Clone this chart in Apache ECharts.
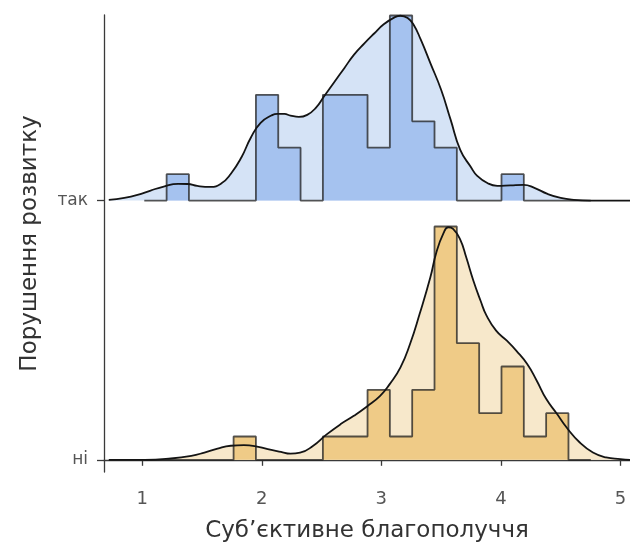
<!DOCTYPE html>
<html>
<head>
<meta charset="utf-8">
<script src="https://cdn.jsdelivr.net/npm/echarts@6/dist/echarts.min.js"></script>
<style>
html, body { margin: 0; padding: 0; background: #fff; }
#main { width: 630px; height: 552px; }
</style>
</head>
<body>
<div id="main"></div>
<script>
// ridges, bottom to top
var groups = ['ні', 'так'];
var xTicks = [1, 2, 3, 4, 5];

// histogram bins
var binStart = 1.017;
var binWidth = 0.18675;
var countsNi  = [0, 0, 0, 0, 1, 0, 0, 0, 1, 1, 3, 1, 3, 10, 5, 2, 4, 1, 2, 0];
var countsTak = [0, 1, 0, 0, 0, 4, 2, 0, 4, 4, 2, 7, 3, 2, 0, 0, 1, 0, 0, 0];

// density curves [x, density]
var densityNi = [
    [0.72, 0], [1.02, 0], [1.24, 0.009], [1.41, 0.027], [1.52, 0.049], [1.63, 0.076],
    [1.74, 0.095], [1.85, 0.099], [1.94, 0.093], [2.05, 0.072], [2.16, 0.054], [2.24, 0.042],
    [2.32, 0.048], [2.43, 0.095], [2.54, 0.170], [2.66, 0.241], [2.77, 0.297], [2.88, 0.360],
    [2.99, 0.432], [3.07, 0.511], [3.16, 0.624], [3.24, 0.782], [3.32, 0.984], [3.41, 1.232],
    [3.46, 1.400], [3.52, 1.530], [3.56, 1.570], [3.60, 1.559], [3.66, 1.486], [3.71, 1.367],
    [3.77, 1.209], [3.83, 1.074], [3.88, 0.973], [3.96, 0.872], [4.05, 0.804], [4.13, 0.736],
    [4.22, 0.647], [4.30, 0.534], [4.38, 0.410], [4.47, 0.309], [4.55, 0.218], [4.66, 0.117],
    [4.77, 0.049], [4.88, 0.016], [5.00, 0.005], [5.08, 0]
];
var densityTak = [
    [0.72, 0.005], [0.85, 0.018], [0.96, 0.038], [1.07, 0.068], [1.18, 0.095], [1.30, 0.113],
    [1.38, 0.112], [1.46, 0.099], [1.57, 0.092], [1.66, 0.115], [1.74, 0.180], [1.83, 0.293],
    [1.91, 0.428], [1.99, 0.525], [2.08, 0.574], [2.13, 0.586], [2.19, 0.585], [2.24, 0.574],
    [2.31, 0.565], [2.38, 0.579], [2.45, 0.624], [2.52, 0.703], [2.61, 0.804], [2.69, 0.894],
    [2.77, 0.984], [2.86, 1.063], [2.94, 1.128], [3.02, 1.190], [3.11, 1.237], [3.16, 1.248],
    [3.22, 1.232], [3.27, 1.187], [3.33, 1.086], [3.41, 0.928], [3.50, 0.748], [3.58, 0.545],
    [3.66, 0.343], [3.75, 0.225], [3.80, 0.169], [3.89, 0.117], [3.97, 0.100], [4.08, 0.103],
    [4.19, 0.106], [4.28, 0.086], [4.39, 0.045], [4.50, 0.018], [4.61, 0.005], [4.75, 0], [5.08, 0]
];

var ridgeScale = 0.9; // tallest ridge = 0.9 of the spacing between ridges
var maxDens = Math.max(
    Math.max.apply(null, countsNi) / (sum(countsNi) * binWidth),
    Math.max.apply(null, countsTak) / (sum(countsTak) * binWidth)
);
var k = ridgeScale / maxDens;

function sum(a) { return a.reduce(function (s, v) { return s + v; }, 0); }

function histPoints(counts, offset) {
    var n = sum(counts);
    var pts = counts.map(function (c, i) {
        return [binStart + i * binWidth, offset + c / (n * binWidth) * k];
    });
    pts.push([binStart + counts.length * binWidth, offset]);
    return pts;
}

function densPoints(dens, offset) {
    return dens.map(function (p) { return [p[0], offset + p[1] * k]; });
}

var ridges = [
    { offset: 1, counts: countsTak, dens: densityTak, light: '#d5e3f6', dark: '#a5c2ef' },
    { offset: 0, counts: countsNi, dens: densityNi, light: '#f7e8cb', dark: '#efcb87' }
];

var series = [];
ridges.forEach(function (r) {
    series.push({
        type: 'line',
        data: densPoints(r.dens, r.offset),
        smooth: 0.5,
        showSymbol: false,
        silent: true,
        lineStyle: { width: 0 },
        areaStyle: { color: r.light, opacity: 1, origin: r.offset }
    });
    series.push({
        type: 'line',
        data: histPoints(r.counts, r.offset),
        step: 'end',
        showSymbol: false,
        silent: true,
        lineStyle: { color: 'rgba(30,30,30,0.75)', width: 1.8 },
        areaStyle: { color: r.dark, opacity: 1, origin: r.offset }
    });
    series.push({
        type: 'line',
        data: densPoints(r.dens, r.offset),
        smooth: 0.5,
        showSymbol: false,
        silent: true,
        lineStyle: { color: '#141414', width: 1.8 }
    });
});

var myChart = echarts.init(document.getElementById('main'));

var option = {
    animation: false,
    backgroundColor: '#fff',
    grid: {
        left: 104,
        right: 0,
        top: 15,
        bottom: 80,
        containLabel: false,
        outerBoundsMode: 'none'
    },
    xAxis: {
        type: 'value',
        min: 0.68,
        max: 5.08,
        name: 'Суб’єктивне благополуччя',
        nameLocation: 'middle',
        nameGap: 48,
        nameTextStyle: { fontFamily: 'DejaVu Sans', fontSize: 23, color: '#333' },
        axisLine: { show: true, lineStyle: { color: '#3a3a3a', width: 1.3 } },
        axisTick: { show: true, customValues: xTicks, length: 6, lineStyle: { color: '#3a3a3a', width: 1.3 } },
        axisLabel: {
            customValues: xTicks,
            margin: 18,
            fontFamily: 'DejaVu Sans',
            fontSize: 18,
            color: '#555'
        },
        splitLine: { show: false }
    },
    yAxis: {
        type: 'value',
        min: -0.047,
        max: 1.716,
        name: 'Порушення розвитку',
        nameLocation: 'middle',
        nameGap: 62,
        nameTextStyle: { fontFamily: 'DejaVu Sans', fontSize: 23, color: '#333' },
        axisLine: { show: true, lineStyle: { color: '#3a3a3a', width: 1.3 } },
        axisTick: { show: true, customValues: [0, 1], length: 7, lineStyle: { color: '#3a3a3a', width: 1.3 } },
        axisLabel: {
            customValues: [0, 1],
            margin: 16,
            fontFamily: 'DejaVu Sans',
            fontSize: 17,
            color: '#555',
            formatter: function (v) { return groups[Math.round(v)]; }
        },
        splitLine: { show: false }
    },
    series: series
};

myChart.setOption(option);
</script>
</body>
</html>
